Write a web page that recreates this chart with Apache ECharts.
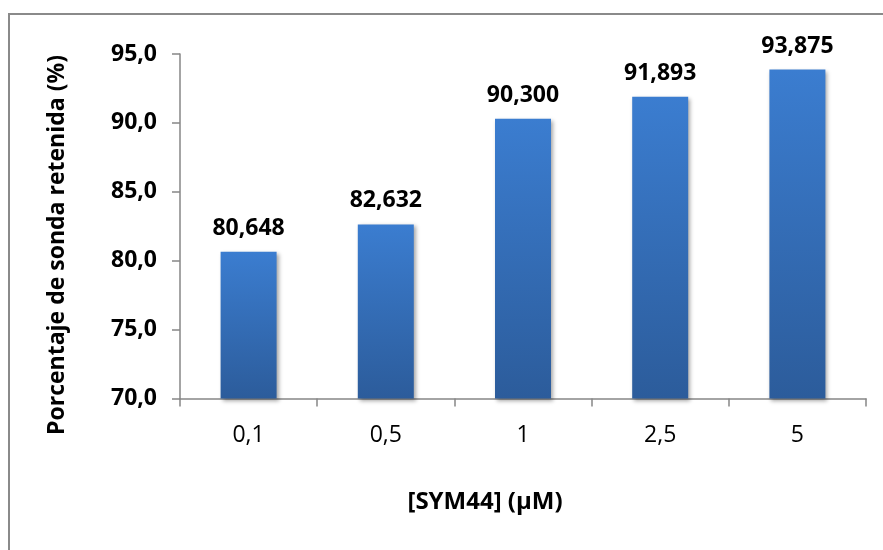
<!DOCTYPE html>
<html>
<head>
<meta charset="utf-8">
<script src="https://cdn.jsdelivr.net/npm/echarts@6/dist/echarts.min.js"></script>
<style>
  html, body { margin: 0; padding: 0; background: #fff; }
  #chart { width: 883px; height: 550px; }
</style>
</head>
<body>
<div id="chart"></div>
<script>
// Retained probe percentage by SYM44 concentration
const categories = ['0,1', '0,5', '1', '2,5', '5'];
const retained = [80.648, 82.632, 90.300, 91.893, 93.875];
const yTicks = { min: 70, max: 95, step: 5 };
const xTitle = '[SYM44] (μM)';
const yTitle = 'Porcentaje de sonda retenida (%)';

const FONT = '"Open Sans", "Liberation Sans", sans-serif';
const fmtComma = (v, digits) => v.toFixed(digits).replace('.', ',');

const chart = echarts.init(document.getElementById('chart'));
chart.setOption({
  animation: false,
  backgroundColor: '#ffffff',
  grid: { left: 180, right: 17, top: 54, bottom: 151.5 },
  graphic: [
    {
      type: 'polyline',
      shape: { points: [[9, 560], [9, 14], [890, 14]] },
      style: { stroke: '#8a8a8a', lineWidth: 2, fill: null },
      silent: true
    },
    {
      type: 'text',
      x: 485, y: 502,
      style: {
        text: xTitle, fontFamily: FONT, fontSize: 24, fontWeight: 'bold',
        fill: '#000', align: 'center', verticalAlign: 'middle'
      },
      silent: true
    },
    {
      type: 'text',
      x: 57, y: 245,
      rotation: Math.PI / 2,
      style: {
        text: yTitle, fontFamily: FONT, fontSize: 23, fontWeight: 'bold',
        fill: '#000', align: 'center', verticalAlign: 'middle'
      },
      silent: true
    }
  ],
  xAxis: {
    type: 'category',
    data: categories,
    axisLine: { lineStyle: { color: '#868686', width: 1.5 } },
    axisTick: { show: true, length: 8, alignWithLabel: false, lineStyle: { color: '#868686', width: 1.5 } },
    axisLabel: { fontFamily: FONT, fontSize: 23, color: '#000', margin: 25 }
  },
  yAxis: {
    type: 'value',
    min: yTicks.min,
    max: yTicks.max,
    interval: yTicks.step,
    axisLine: { show: true, lineStyle: { color: '#868686', width: 1.5 } },
    axisTick: { show: true, length: 8, lineStyle: { color: '#868686', width: 1.5 } },
    splitLine: { show: false },
    axisLabel: {
      fontFamily: FONT, fontSize: 23, fontWeight: 'bold', color: '#000', margin: 23,
      formatter: v => fmtComma(v, 1)
    }
  },
  series: [{
    type: 'bar',
    data: retained,
    barWidth: 56,
    itemStyle: {
      color: new echarts.graphic.LinearGradient(0, 0, 0, 1, [
        { offset: 0, color: '#3b7dd0' },
        { offset: 1, color: '#2c5c9b' }
      ]),
      shadowColor: 'rgba(0,0,0,0.35)',
      shadowBlur: 4,
      shadowOffsetX: 2,
      shadowOffsetY: 2
    },
    label: {
      show: true,
      position: 'top',
      distance: 12,
      fontFamily: FONT, fontSize: 23, fontWeight: 'bold', color: '#000',
      formatter: p => fmtComma(p.value, 3)
    }
  }]
});
</script>
</body>
</html>
